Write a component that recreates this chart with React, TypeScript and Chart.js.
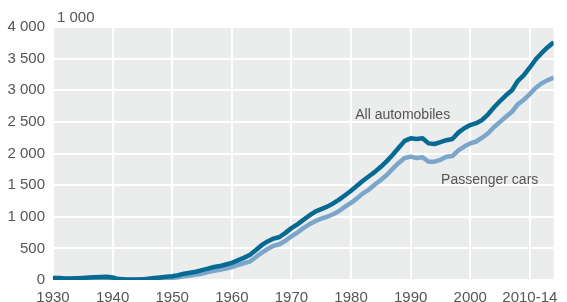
import React, { useEffect, useRef } from "react";
import { Chart, registerables } from "chart.js";

Chart.register(...registerables);

const years: number[] = [];
for (let y = 1930; y <= 2014; y++) years.push(y);

const allAutomobiles = [
  30, 30, 25, 25, 28, 32, 38, 42, 48, 50,
  40, 15, 10, 8, 8, 10, 20, 30, 40, 50,
  60, 75, 100, 115, 130, 155, 180, 205, 220, 245,
  270, 310, 350, 395, 470, 550, 610, 655, 680, 745,
  820, 880, 950, 1020, 1080, 1120, 1160, 1210, 1270, 1340,
  1410, 1490, 1570, 1640, 1710, 1790, 1880, 1980, 2090, 2200,
  2240, 2230, 2240, 2160, 2150, 2180, 2210, 2230, 2330, 2400,
  2450, 2480, 2530, 2620, 2730, 2830, 2920, 3000, 3150, 3240,
  3360, 3490, 3590, 3680, 3760,
];

const passengerCars = [
  20, 20, 18, 18, 20, 24, 28, 32, 35, 35,
  25, 8, 5, 4, 4, 5, 10, 15, 22, 28,
  35, 45, 60, 70, 85, 100, 125, 145, 160, 180,
  205, 235, 265, 290, 360, 430, 490, 540, 565, 620,
  690, 750, 820, 880, 930, 970, 1000, 1040, 1090, 1160,
  1220, 1290, 1370, 1430, 1510, 1580, 1660, 1760, 1850, 1930,
  1950, 1930, 1940, 1870, 1870, 1900, 1950, 1960, 2050, 2110,
  2160, 2190, 2250, 2320, 2420, 2500, 2580, 2660, 2780, 2850,
  2940, 3040, 3110, 3160, 3200,
];

const xTicks = [1930, 1940, 1950, 1960, 1970, 1980, 1990, 2000, 2010];
const xTickLabels = ["1930", "1940", "1950", "1960", "1970", "1980", "1990", "2000", "2010-14"];
const unitLabel = "1 000";
const seriesLabels = ["All automobiles", "Passenger cars"];
// annotation anchor positions in data coordinates
const labelPositions = [
  { x: 1980.7, y: 2610 },
  { x: 1995.1, y: 1580 },
];

const FONT = "'Liberation Sans', Arial, Helvetica, sans-serif";
const TEXT = "#555555";

function fmt(v: number): string {
  if (v >= 1000) {
    return `${Math.floor(v / 1000)} ${String(v % 1000).padStart(3, "0")}`;
  }
  return String(v);
}

export default function App() {
  const ref = useRef<HTMLCanvasElement | null>(null);

  useEffect(() => {
    if (!ref.current) return;
    const bgPlugin = {
      id: "bg",
      beforeDraw(chart: any) {
        const { ctx, chartArea } = chart;
        ctx.save();
        ctx.fillStyle = "#ebecec";
        ctx.fillRect(chartArea.left, chartArea.top, chartArea.right - chartArea.left, chartArea.bottom - chartArea.top);
        ctx.restore();
      },
      afterDraw(chart: any) {
        const { ctx, chartArea, scales } = chart;
        ctx.save();
        ctx.fillStyle = TEXT;
        ctx.font = `15px ${FONT}`;
        ctx.textAlign = "left";
        ctx.textBaseline = "alphabetic";
        ctx.fillText(unitLabel, chartArea.left + 4, chartArea.top - 5);
        ctx.font = `14px ${FONT}`;
        ctx.textBaseline = "middle";
        seriesLabels.forEach((t, i) => {
          const p = labelPositions[i];
          ctx.fillText(t, scales.x.getPixelForValue(p.x), scales.y.getPixelForValue(p.y));
        });
        ctx.restore();
      },
    };

    const chart = new Chart(ref.current, {
      type: "line",
      data: {
        labels: years,
        datasets: [
          {
            label: seriesLabels[0],
            data: years.map((y, i) => ({ x: y, y: allAutomobiles[i] })),
            borderColor: "#066a93",
            borderWidth: 4.5,
            pointRadius: 0,
            tension: 0,
            borderJoinStyle: "round",
            borderCapStyle: "butt",
          },
          {
            label: seriesLabels[1],
            data: years.map((y, i) => ({ x: y, y: passengerCars[i] })),
            borderColor: "#7ba6c9",
            borderWidth: 4.5,
            pointRadius: 0,
            tension: 0,
            borderJoinStyle: "round",
            borderCapStyle: "butt",
          },
        ],
      },
      options: {
        responsive: false,
        animation: false,
        layout: { padding: { top: 27, right: 13, left: 0, bottom: 0 } },
        plugins: { legend: { display: false }, tooltip: { enabled: false } },
        scales: {
          x: {
            type: "linear",
            min: 1930,
            max: 2014,
            afterBuildTicks(scale: any) {
              scale.ticks = xTicks.map((v) => ({ value: v }));
            },
            afterFit(scale: any) {
              scale.height = 22;
            },
            grid: { color: "#ffffff", lineWidth: 2, drawTicks: false },
            border: { display: false },
            ticks: {
              autoSkip: false,
              maxRotation: 0,
              padding: 9,
              color: TEXT,
              font: { size: 15, family: FONT },
              callback: (v: any) => {
                const idx = xTicks.indexOf(Number(v));
                return idx >= 0 ? xTickLabels[idx] : "";
              },
            },
          },
          y: {
            min: 0,
            max: 4000,
            afterFit(scale: any) {
              scale.width = 53;
            },
            grid: { color: "#ffffff", lineWidth: 2, drawTicks: false },
            border: { display: false },
            ticks: {
              stepSize: 500,
              padding: 8,
              color: TEXT,
              font: { size: 15, family: FONT },
              callback: (v: any) => fmt(Number(v)),
            },
          },
        },
      },
      plugins: [bgPlugin],
    } as any);
    return () => chart.destroy();
  }, []);

  return (
    <div style={{ position: "absolute", left: 0, top: 0, width: 567, height: 302 }}>
      <canvas ref={ref} width={567} height={302} />
    </div>
  );
}
